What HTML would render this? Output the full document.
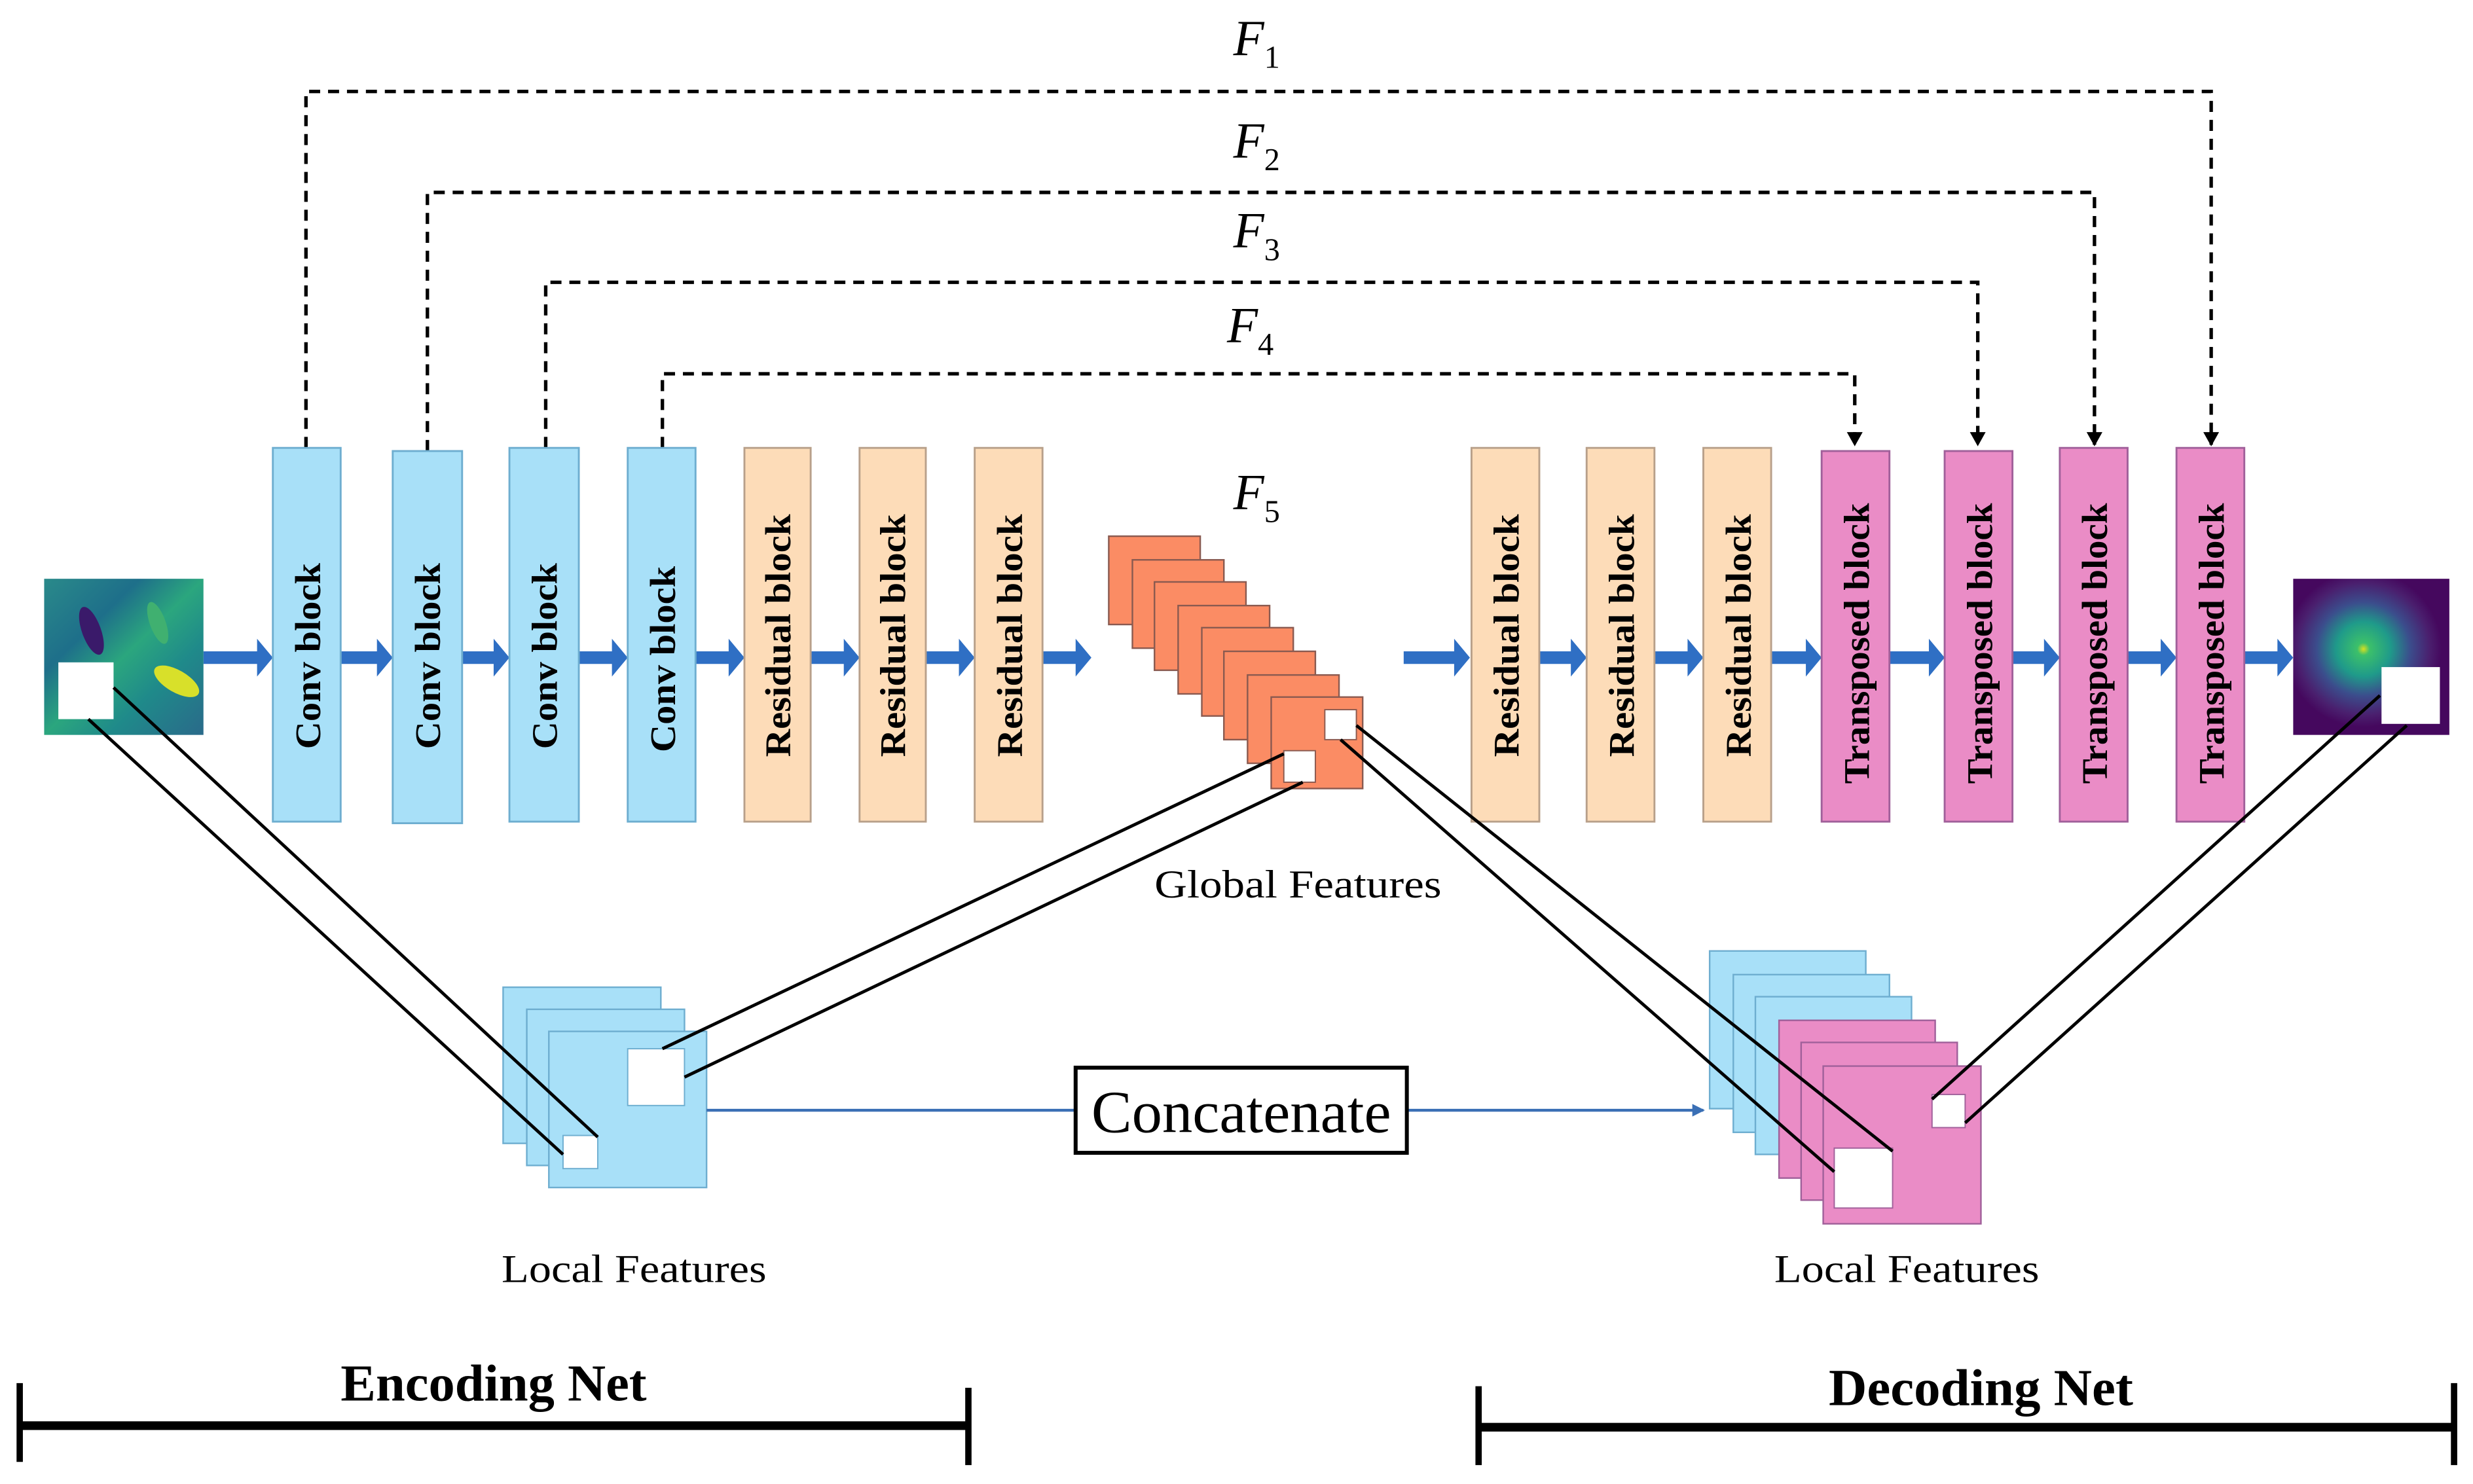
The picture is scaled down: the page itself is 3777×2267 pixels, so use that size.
<!DOCTYPE html>
<html><head><meta charset="utf-8"><style>
html,body{margin:0;padding:0;background:#fff;}
svg{display:block;}
text{font-family:"Liberation Serif",serif;}
</style></head><body>
<svg width="3777" height="2267" viewBox="0 0 1568 941" preserveAspectRatio="none" xmlns="http://www.w3.org/2000/svg">
<defs>
<marker id="ah" markerWidth="10" markerHeight="10" refX="8" refY="5" orient="auto" markerUnits="userSpaceOnUse"><path d="M0,0 L9,5 L0,10 Z" fill="#000"/></marker>
<marker id="bh" markerWidth="8" markerHeight="8" refX="7" refY="4" orient="auto" markerUnits="userSpaceOnUse"><path d="M0,0 L8,4 L0,8 Z" fill="#3a6fb5"/></marker>
<radialGradient id="outg" cx="0.45" cy="0.45" r="0.5">
<stop offset="0" stop-color="#d8e020"/><stop offset="0.08" stop-color="#3cc06a"/><stop offset="0.35" stop-color="#1f9a8a"/><stop offset="0.6" stop-color="#3b4d8c"/><stop offset="0.85" stop-color="#4a1f6e"/><stop offset="1" stop-color="#45085e"/>
</radialGradient>
<linearGradient id="ing" x1="0" y1="0" x2="1" y2="1">
<stop offset="0" stop-color="#2a8a8a"/><stop offset="0.3" stop-color="#1e6f8a"/><stop offset="0.5" stop-color="#2ba67e"/><stop offset="0.7" stop-color="#1f8a8a"/><stop offset="1" stop-color="#2a6a8a"/>
</linearGradient>
</defs>

<g stroke="#000" stroke-width="2.2" fill="none" stroke-dasharray="7,5">
<path d="M194,284 V58 H1402 V282" marker-end="url(#ah)"/>
<path d="M271,286 V122 H1328 V282" marker-end="url(#ah)"/>
<path d="M346,284 V179 H1254 V282" marker-end="url(#ah)"/>
<path d="M420,284 V237 H1176 V282" marker-end="url(#ah)"/>
</g>
<g font-style="italic" font-size="32" fill="#000">
<text x="782" y="35">F<tspan font-size="20" dy="8" font-style="normal">1</tspan></text>
<text x="782" y="100">F<tspan font-size="20" dy="8" font-style="normal">2</tspan></text>
<text x="782" y="157">F<tspan font-size="20" dy="8" font-style="normal">3</tspan></text>
<text x="778" y="217">F<tspan font-size="20" dy="8" font-style="normal">4</tspan></text>
<text x="782" y="323">F<tspan font-size="20" dy="8" font-style="normal">5</tspan></text>
</g>

<g fill="#2f6fc4">
<path d="M129,413 h34 v-8 l10,12 l-10,12 v-8 h-34 z"/>
<path d="M216,413 h23 v-8 l10,12 l-10,12 v-8 h-23 z"/>
<path d="M293,413 h20 v-8 l10,12 l-10,12 v-8 h-20 z"/>
<path d="M367,413 h21 v-8 l10,12 l-10,12 v-8 h-21 z"/>
<path d="M441,413 h21 v-8 l10,12 l-10,12 v-8 h-21 z"/>
<path d="M514,413 h21 v-8 l10,12 l-10,12 v-8 h-21 z"/>
<path d="M587,413 h21 v-8 l10,12 l-10,12 v-8 h-21 z"/>
<path d="M661,413 h21 v-8 l10,12 l-10,12 v-8 h-21 z"/>
<path d="M890,413 h32 v-8 l10,12 l-10,12 v-8 h-32 z"/>
<path d="M976,413 h20 v-8 l10,12 l-10,12 v-8 h-20 z"/>
<path d="M1049,413 h21 v-8 l10,12 l-10,12 v-8 h-21 z"/>
<path d="M1123,413 h22 v-8 l10,12 l-10,12 v-8 h-22 z"/>
<path d="M1198,413 h25 v-8 l10,12 l-10,12 v-8 h-25 z"/>
<path d="M1276,413 h20 v-8 l10,12 l-10,12 v-8 h-20 z"/>
<path d="M1349,413 h21 v-8 l10,12 l-10,12 v-8 h-21 z"/>
<path d="M1423,413 h21 v-8 l10,12 l-10,12 v-8 h-21 z"/>
</g>

<g stroke-width="1.2">
<g fill="#a8e0f8" stroke="#6eaed0">
<rect x="173" y="284" width="43" height="237"/>
<rect x="249" y="286" width="44" height="236"/>
<rect x="323" y="284" width="44" height="237"/>
<rect x="398" y="284" width="43" height="237"/>
</g>
<g fill="#fddcb8" stroke="#b8a08a">
<rect x="472" y="284" width="42" height="237"/>
<rect x="545" y="284" width="42" height="237"/>
<rect x="618" y="284" width="43" height="237"/>
<rect x="933" y="284" width="43" height="237"/>
<rect x="1006" y="284" width="43" height="237"/>
<rect x="1080" y="284" width="43" height="237"/>
</g>
<g fill="#ea8cc6" stroke="#a0609a">
<rect x="1155" y="286" width="43" height="235"/>
<rect x="1233" y="286" width="43" height="235"/>
<rect x="1306" y="284" width="43" height="237"/>
<rect x="1380" y="284" width="43" height="237"/>
</g>
</g>
<g font-weight="bold" font-size="23" fill="#000" text-anchor="middle" lengthAdjust="spacingAndGlyphs">
<text transform="translate(203,416) rotate(-90)" textLength="118" lengthAdjust="spacingAndGlyphs">Conv block</text>
<text transform="translate(279,416) rotate(-90)" textLength="118" lengthAdjust="spacingAndGlyphs">Conv block</text>
<text transform="translate(353,416) rotate(-90)" textLength="118" lengthAdjust="spacingAndGlyphs">Conv block</text>
<text transform="translate(428,418) rotate(-90)" textLength="118" lengthAdjust="spacingAndGlyphs">Conv block</text>
<text transform="translate(501,403) rotate(-90)" textLength="154" lengthAdjust="spacingAndGlyphs">Residual block</text>
<text transform="translate(574,403) rotate(-90)" textLength="154" lengthAdjust="spacingAndGlyphs">Residual block</text>
<text transform="translate(648,403) rotate(-90)" textLength="154" lengthAdjust="spacingAndGlyphs">Residual block</text>
<text transform="translate(963,403) rotate(-90)" textLength="154" lengthAdjust="spacingAndGlyphs">Residual block</text>
<text transform="translate(1036,403) rotate(-90)" textLength="154" lengthAdjust="spacingAndGlyphs">Residual block</text>
<text transform="translate(1110,403) rotate(-90)" textLength="154" lengthAdjust="spacingAndGlyphs">Residual block</text>
<text transform="translate(1185,408) rotate(-90)" textLength="178" lengthAdjust="spacingAndGlyphs">Transposed block</text>
<text transform="translate(1263,408) rotate(-90)" textLength="178" lengthAdjust="spacingAndGlyphs">Transposed block</text>
<text transform="translate(1336,408) rotate(-90)" textLength="178" lengthAdjust="spacingAndGlyphs">Transposed block</text>
<text transform="translate(1410,408) rotate(-90)" textLength="178" lengthAdjust="spacingAndGlyphs">Transposed block</text>
</g>

<rect x="28" y="367" width="101" height="99" fill="url(#ing)"/>
<ellipse cx="58" cy="400" rx="6" ry="16" fill="#3a1a6a" transform="rotate(-20 58 400)"/>
<ellipse cx="112" cy="432" rx="16" ry="7" fill="#d8e02a" transform="rotate(30 112 432)"/>
<ellipse cx="100" cy="395" rx="5" ry="14" fill="#40b070" transform="rotate(-20 100 395)"/>
<rect x="37" y="420" width="35" height="36" fill="#fff"/>

<rect x="1454" y="367" width="99" height="99" fill="url(#outg)"/>
<rect x="1510" y="423" width="37" height="36" fill="#fff"/>

<g fill="#fb8c64" stroke="#8a5a50" stroke-width="1">
<rect x="703" y="340" width="58" height="56"/>
<rect x="718" y="355" width="58" height="56"/>
<rect x="732" y="369" width="58" height="56"/>
<rect x="747" y="384" width="58" height="56"/>
<rect x="762" y="398" width="58" height="56"/>
<rect x="776" y="413" width="58" height="56"/>
<rect x="791" y="428" width="58" height="56"/>
<rect x="806" y="442" width="58" height="58"/>
</g>
<rect x="840" y="450" width="20" height="19" fill="#fff" stroke="#8a5a50" stroke-width="0.8"/>
<rect x="814" y="476" width="20" height="20" fill="#fff" stroke="#8a5a50" stroke-width="0.8"/>
<text x="823" y="569" font-size="25" text-anchor="middle" textLength="182" lengthAdjust="spacingAndGlyphs" fill="#000">Global Features</text>

<g fill="#a8e0f8" stroke="#6eaed0" stroke-width="1">
<rect x="319" y="626" width="100" height="99"/>
<rect x="334" y="640" width="100" height="99"/>
<rect x="348" y="654" width="100" height="99"/>
</g>
<rect x="398" y="665" width="36" height="36" fill="#fff" stroke="#6eaed0" stroke-width="0.8"/>
<rect x="357" y="720" width="22" height="21" fill="#fff" stroke="#6eaed0" stroke-width="0.8"/>
<text x="402" y="813" font-size="25" text-anchor="middle" textLength="168" lengthAdjust="spacingAndGlyphs" fill="#000">Local Features</text>

<g stroke-width="1">
<rect x="1084" y="603" width="99" height="100" fill="#a8e0f8" stroke="#6eaed0"/>
<rect x="1099" y="618" width="99" height="100" fill="#a8e0f8" stroke="#6eaed0"/>
<rect x="1113" y="632" width="99" height="100" fill="#a8e0f8" stroke="#6eaed0"/>
<rect x="1128" y="647" width="99" height="100" fill="#ea8cc6" stroke="#a0609a"/>
<rect x="1142" y="661" width="99" height="100" fill="#ea8cc6" stroke="#a0609a"/>
<rect x="1156" y="676" width="100" height="100" fill="#ea8cc6" stroke="#a0609a"/>
</g>
<rect x="1163" y="728" width="37" height="38" fill="#fff" stroke="#a0609a" stroke-width="0.8"/>
<rect x="1225" y="694" width="21" height="21" fill="#fff" stroke="#a0609a" stroke-width="0.8"/>
<text x="1209" y="813" font-size="25" text-anchor="middle" textLength="168" lengthAdjust="spacingAndGlyphs" fill="#000">Local Features</text>

<g stroke="#000" stroke-width="2" fill="none">
<line x1="72" y1="436" x2="379" y2="721"/>
<line x1="56" y1="456" x2="357" y2="732"/>
<line x1="420" y1="665" x2="814" y2="478"/>
<line x1="434" y1="683" x2="826" y2="496"/>
<line x1="860" y1="460" x2="1200" y2="730"/>
<line x1="850" y1="469" x2="1163" y2="743"/>
<line x1="1509" y1="441" x2="1225" y2="697"/>
<line x1="1526" y1="460" x2="1246" y2="712"/>
</g>

<line x1="448" y1="704" x2="682" y2="704" stroke="#3a6fb5" stroke-width="1.8"/>
<line x1="892" y1="704" x2="1080" y2="704" stroke="#3a6fb5" stroke-width="1.8" marker-end="url(#bh)"/>
<rect x="682" y="677" width="210" height="54" fill="#fff" stroke="#000" stroke-width="2.5"/>
<text x="787" y="718" font-size="38" text-anchor="middle" textLength="190" lengthAdjust="spacingAndGlyphs" fill="#000">Concatenate</text>

<g stroke="#000" fill="none">
<line x1="12" y1="904" x2="615" y2="904" stroke-width="5.5"/>
<line x1="12.5" y1="877" x2="12.5" y2="927" stroke-width="4"/>
<line x1="614" y1="880" x2="614" y2="929" stroke-width="4"/>
<line x1="937" y1="905" x2="1557" y2="905" stroke-width="5.5"/>
<line x1="937.5" y1="879" x2="937.5" y2="929" stroke-width="4"/>
<line x1="1556" y1="877" x2="1556" y2="929" stroke-width="4"/>
</g>
<g font-weight="bold" font-size="33" fill="#000" text-anchor="middle">
<text x="313" y="888" textLength="194" lengthAdjust="spacingAndGlyphs">Encoding Net</text>
<text x="1256" y="891" textLength="193" lengthAdjust="spacingAndGlyphs">Decoding Net</text>
</g>
</svg>
</body></html>
